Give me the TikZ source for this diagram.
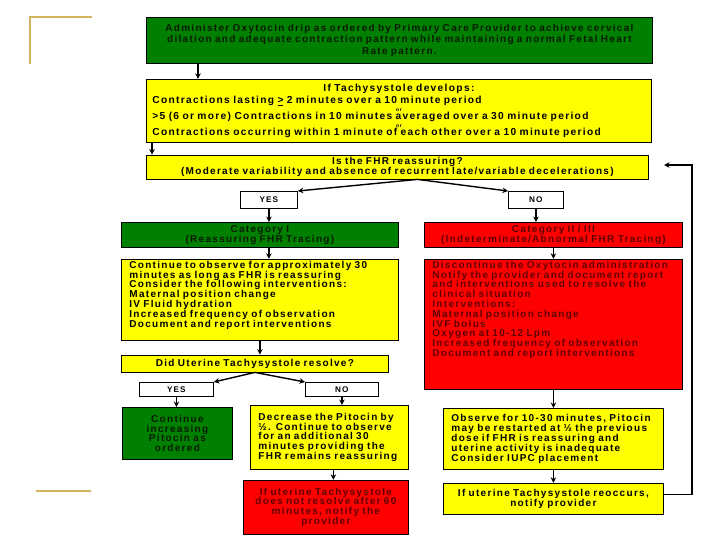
\documentclass[tikz,border=0pt]{standalone}
\usepackage{fontspec}
\newfontfamily\chartfont{Liberation Sans}[LetterSpace=13, WordSpace=1.5]
\usetikzlibrary{arrows.meta,positioning}
\definecolor{boxgreen}{HTML}{008000}
\definecolor{boxyellow}{HTML}{FFFF00}
\definecolor{boxred}{HTML}{FF0000}
\definecolor{greentext}{HTML}{0A1A00}
\definecolor{redtext}{HTML}{600000}
\definecolor{trimgold}{HTML}{D2B45F}

\begin{document}
\begin{tikzpicture}[
  x=1pt, y=-1pt,
  >={Stealth[length=5.5pt,width=5.5pt]},
  box/.style={rectangle, draw=black, line width=0.8pt, align=center,
              inner xsep=4pt, inner ysep=1pt,
              font=\chartfont\bfseries\fontsize{10}{9.8}\selectfont},
  grn/.style={box, fill=boxgreen, text=greentext},
  ylw/.style={box, fill=boxyellow},
  rd/.style={box, fill=boxred, text=redtext},
  tag/.style={box, fill=white, inner sep=0pt,
              font=\chartfont\bfseries\fontsize{8.2}{8}\selectfont},
  lft/.style={align=left, inner xsep=8pt},
  flow/.style={->, line width=1.4pt},
  trim/.style={draw=trimgold, line width=1.3pt},
]
\useasboundingbox (0,0) rectangle (728,546);

% ---- slide trim ----
\draw[trim] (92,17) -- (30,17) -- (30,64);
\draw[trim] (36,491) -- (91,491);

% ---- top of the protocol ----
\node[grn, anchor=north west, text width=498pt, minimum height=46pt,
      font=\chartfont\bfseries\fontsize{10}{11.2}\selectfont] (admin) at (146,17)
  {Administer Oxytocin drip as ordered by Primary Care Provider to achieve cervical\\
   dilation and adequate contraction pattern while maintaining a normal Fetal Heart\\
   Rate pattern.};
\node[ylw, below=15pt of admin.south west, anchor=north west, align=left,
      inner xsep=6pt, text width=493pt, minimum height=63pt,
      font=\chartfont\bfseries\fontsize{10.2}{10.5}\selectfont] (tachy)
  {\hfill If Tachysystole develops:\hfill\null\\[1.5pt]
   Contractions lasting \underline{>} 2 minutes over a 10 minute period\\[-2.5pt]
   \hfill{\fontsize{5}{5}\selectfont or}\hfill\null\\[-2.5pt]
   >5 (6 or more) Contractions in 10 minutes averaged over a 30 minute period\\[-2.5pt]
   \hfill{\fontsize{5}{5}\selectfont or}\hfill\null\\[-2.5pt]
   Contractions occurring within 1 minute of each other over a 10 minute period};
\node[ylw, below=12pt of tachy.south west, anchor=north west,
      text width=494pt, minimum height=24pt] (fhr)
  {Is the FHR reassuring?\\
   (Moderate variability and absence of recurrent late/variable decelerations)};

\node[tag, anchor=north west, minimum width=57pt, minimum height=17pt] (yes) at (240,191) {YES};
\node[tag, anchor=north west, minimum width=55pt, minimum height=17pt] (no) at (508,191) {NO};

% ---- reassuring branch ----
\node[grn, anchor=north west, text width=269pt, minimum height=25pt] (cat1) at (121,222)
  {Category I\\(Reassuring FHR Tracing)};
\node[ylw, lft, below=11pt of cat1.south west, anchor=north west,
      text width=261pt, minimum height=81pt, text height=8pt, text depth=71pt] (obs1)
  {Continue to observe for approximately 30\\
   minutes as long as FHR is reassuring\\
   Consider the following interventions:\\
   Maternal position change\\
   IV Fluid hydration\\
   Increased frequency of observation\\
   Document and report interventions};
\node[ylw, below=14pt of obs1.south west, anchor=north west,
      text width=259pt, minimum height=17pt] (did)
  {Did Uterine Tachysystole resolve?};

\node[tag, anchor=north west, minimum width=74pt, minimum height=14pt] (yes2) at (139,382) {YES};
\node[tag, anchor=north west, minimum width=73pt, minimum height=14pt] (no2) at (305,382) {NO};

\node[grn, anchor=north west, text width=102pt, minimum height=52pt] (cont) at (122,407)
  {Continue\\increasing\\Pitocin as\\ordered};
\node[ylw, lft, anchor=north west, text width=142pt, minimum height=64pt] (decr) at (250,405)
  {Decrease the Pitocin by\\
   ½. Continue to observe\\
   for an additional 30\\
   minutes providing the\\
   FHR remains reassuring};
\node[rd, below=10pt of decr.south west, anchor=north west, xshift=-7pt,
      text width=157pt, minimum height=54pt] (notify)
  {If uterine Tachysystole\\does not resolve after 60\\minutes, notify the\\provider};

% ---- non-reassuring branch ----
\node[rd, anchor=north west, text width=250pt, minimum height=25pt] (cat2) at (424,222)
  {Category II / III\\(Indeterminate/Abnormal FHR Tracing)};
\node[rd, lft, below=11pt of cat2.south west, anchor=north west,
      text width=242pt, minimum height=130pt, text height=8pt, text depth=120pt] (cat2txt)
  {Discontinue the Oxytocin administration\\
   Notify the provider and document report\\
   and interventions used to resolve the\\
   clinical situation\\
   Interventions:\\
   Maternal position change\\
   IVF bolus\\
   Oxygen at 10-12 Lpm\\
   Increased frequency of observation\\
   Document and report interventions};
\node[ylw, lft, anchor=north west, text width=204pt, minimum height=61pt] (restart) at (443,408)
  {Observe for 10-30 minutes, Pitocin\\
   may be restarted at ½ the previous\\
   dose if FHR is reassuring and\\
   uterine activity is inadequate\\
   Consider IUPC placement};
\node[ylw, below=13pt of restart.south west, anchor=north west,
      text width=212pt, minimum height=31pt] (reocc)
  {If uterine Tachysystole reoccurs,\\notify provider};

\coordinate (ret) at (664,165);

% ---- flow ----
\draw[flow] ([xshift=52pt]admin.south west) -- ([xshift=52pt]tachy.north west);
\draw[flow] ([xshift=6pt]tachy.south west) -- ([xshift=6pt]fhr.north west);
\draw[flow] ([xshift=20pt]fhr.south) -- (yes.north east);
\draw[flow] ([xshift=20pt]fhr.south) -- (no.north west);
\draw[flow] (yes.south) -- (yes.south |- cat1.north);
\draw[flow] (no.south) -- (no.south |- cat2.north);
\draw[flow] (cat1.south -| yes.south) -- (obs1.north -| yes.south);
\draw[flow] (obs1.south) -- (obs1.south |- did.north);
\draw[flow] (did.south) -- (yes2.north east);
\draw[flow] (did.south) -- (no2.north west);
\draw[flow] (yes2.south) -- (yes2.south |- cont.north);
\draw[flow] (no2.south) -- (no2.south |- decr.north);
\draw[flow] ([xshift=4pt]decr.south) -- ([xshift=4pt]decr.south |- notify.north);
\draw[flow] (cat2.south) -- (cat2txt.north);
\draw[flow] (cat2txt.south) -- (cat2txt.south |- restart.north);
\draw[flow] (restart) -- (reocc);

% ---- loop back when tachysystole returns ----
\draw[flow] ([yshift=4pt]reocc.east) -- ++(28,0) |- (ret);
\end{tikzpicture}
\end{document}
